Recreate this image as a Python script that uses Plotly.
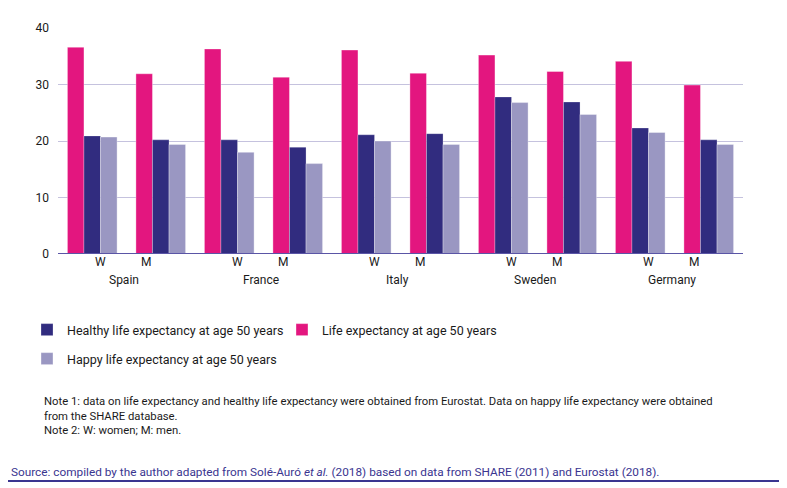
import plotly.graph_objects as go

# values (years remaining at age 50)
countries = ["Spain", "France", "Italy", "Sweden", "Germany"]
sexes = ["W", "M"]
life_exp = [36.6, 31.9, 36.3, 31.3, 36.1, 32.0, 35.2, 32.3, 34.1, 29.9]
healthy_exp = [20.9, 20.2, 20.2, 18.9, 21.1, 21.3, 27.8, 26.9, 22.3, 20.2]
happy_exp = [20.7, 19.4, 18.0, 16.0, 20.0, 19.4, 26.8, 24.7, 21.5, 19.4]
y_ticks = [0, 10, 20, 30, 40]

PINK = "#e3167f"
NAVY = "#312c7f"
LILAC = "#9a97c2"
PURPLE = "#3a3590"
FONT = "Roboto"

# page size and plot box in page pixels; the page body adds an 8px margin
W, H, OFF = 787, 488, 8
PLOT_L, PLOT_R, PLOT_T, PLOT_B = 58, 743, 28, 254
plot_w = PLOT_R - PLOT_L
plot_h = PLOT_B - PLOT_T


def px_x(px):
    return (px - PLOT_L) / plot_w


def px_y(py):
    return (PLOT_B - py) / plot_h


slots = [f"{c} {s}" for c in countries for s in sexes]

fig = go.Figure()
fig.add_trace(go.Bar(
    x=slots, y=life_exp, name="Life expectancy at age 50 years",
    marker=dict(color=PINK, line=dict(color="rgba(255,255,255,0.35)", width=1)),
    legend="legend", legendrank=2,
))
fig.add_trace(go.Bar(
    x=slots, y=healthy_exp, name="Healthy life expectancy at age 50 years",
    marker=dict(color=NAVY, line=dict(color="rgba(255,255,255,0.25)", width=1)),
    legend="legend", legendrank=1,
))
fig.add_trace(go.Bar(
    x=slots, y=happy_exp, name="Happy life expectancy at age 50 years",
    marker=dict(color=LILAC, line=dict(color="rgba(255,255,255,0.35)", width=1)),
    legend="legend2",
))

annotations = []
# W / M labels, nudged like in the original
for i, slot in enumerate(slots):
    sex = sexes[i % 2]
    annotations.append(dict(
        x=slot, xref="x", y=px_y(271), yref="paper", text=sex,
        showarrow=False, xshift=8 if sex == "W" else -15,
        font=dict(size=12, color="#1a1a1a"),
    ))
# country labels centred under each pair
for k, c in enumerate(countries):
    annotations.append(dict(
        x=2 * k + 0.5, xref="x", y=px_y(289), yref="paper", text=c,
        showarrow=False, xshift=-3,
        font=dict(size=12, color="#1a1a1a"),
    ))

annotations.append(dict(
    x=px_x(42), xref="paper", y=px_y(393), yref="paper",
    xanchor="left", yanchor="top", align="left", showarrow=False,
    text=("Note 1: data on life expectancy and healthy life expectancy were obtained from Eurostat. "
          "Data on happy life expectancy were obtained<br>from the SHARE database.<br>"
          "Note 2: W: women; M: men."),
    font=dict(size=11.3, color="#1a1a1a"),
))
annotations.append(dict(
    x=px_x(9), xref="paper", y=px_y(472), yref="paper",
    xanchor="left", yanchor="middle", showarrow=False,
    text="Source: compiled by the author adapted from Solé-Auró <i>et al.</i> (2018) "
         "based on data from SHARE (2011) and Eurostat (2018).",
    font=dict(size=11.8, color=PURPLE),
))

fig.update_layout(
    width=W - OFF, height=H - OFF,
    margin=dict(l=PLOT_L - OFF, r=W - PLOT_R, t=PLOT_T - OFF, b=H - PLOT_B),
    paper_bgcolor="white", plot_bgcolor="white",
    font=dict(family=FONT, size=12, color="#1a1a1a"),
    barmode="group", bargap=0.275, bargroupgap=0,
    xaxis=dict(showticklabels=False, showgrid=False, ticks="",
               showline=False, zeroline=False, fixedrange=True),
    yaxis=dict(range=[0, 40], tickvals=y_ticks, showgrid=True,
               gridcolor="rgba(90,80,160,0.35)", gridwidth=1,
               zeroline=False, showline=False, ticks="",
               ticklabelstandoff=8, layer="above traces",
               tickfont=dict(size=12, color="#1a1a1a")),
    legend=dict(orientation="h", x=px_x(27), y=px_y(330), xanchor="left",
                yanchor="middle", entrywidth=210, traceorder="normal",
                font=dict(size=12.5), bgcolor="rgba(0,0,0,0)"),
    legend2=dict(orientation="h", x=px_x(27), y=px_y(359), xanchor="left",
                 yanchor="middle", font=dict(size=12.5), bgcolor="rgba(0,0,0,0)"),
    annotations=annotations,
    shapes=[
        dict(type="line", xref="paper", yref="y", x0=0, x1=1, y0=0, y1=0,
             line=dict(color="#5a55a6", width=2)),
        dict(type="line", xref="paper", yref="paper", x0=px_x(8), x1=px_x(780),
             y0=px_y(481), y1=px_y(481), line=dict(color=PURPLE, width=2)),
    ],
)

fig.write_html("out.html")
